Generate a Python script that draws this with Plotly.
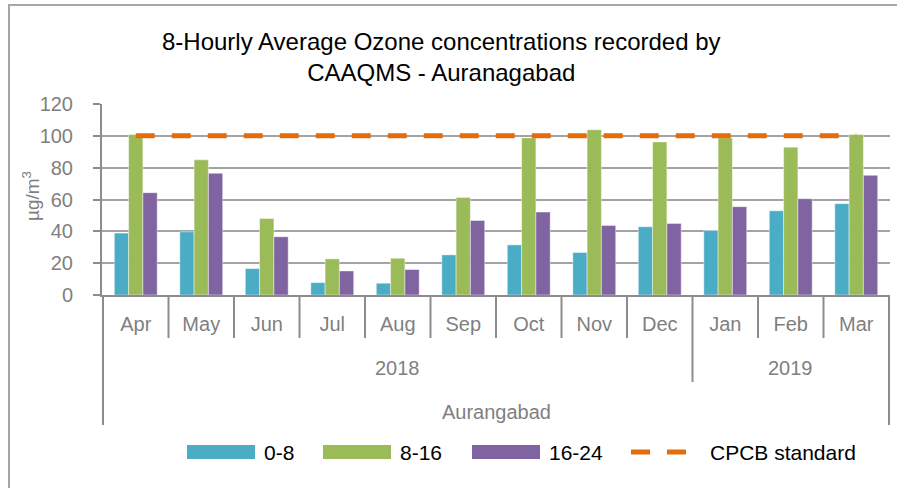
import plotly.graph_objects as go

# ---- data ----
months = ["Apr", "May", "Jun", "Jul", "Aug", "Sep", "Oct", "Nov", "Dec", "Jan", "Feb", "Mar"]
years = ["2018", "2018", "2018", "2018", "2018", "2018", "2018", "2018", "2018", "2019", "2019", "2019"]
station = "Aurangabad"
series_names = ["0-8", "8-16", "16-24"]
s_0_8 = [38.9, 39.7, 16.6, 7.8, 7.4, 25.2, 31.5, 26.7, 42.9, 40.5, 52.9, 57.4]
s_8_16 = [100.8, 84.9, 48.1, 22.7, 23.1, 61.3, 98.7, 103.8, 96.2, 98.7, 92.9, 100.8]
s_16_24 = [64.3, 76.5, 36.6, 15.1, 16.0, 46.8, 52.1, 43.7, 45.0, 55.5, 60.5, 75.2]
cpcb_name = "CPCB standard"
cpcb = [100, 100, 100, 100, 100, 100, 100, 100, 100, 100, 100, 100]
y_ticks = [0, 20, 40, 60, 80, 100, 120]
title_text = "8-Hourly Average Ozone concentrations recorded by<br>CAAQMS - Auranagabad"

# ---- styling ----
colors = ["#4BACC6", "#9BBB59", "#8064A2"]
line_color = "#E46C0A"
gray_text = "#7F7F7F"
grid_col = "#A3A3A3"
axis_col = "#8C8C8C"
FONT = "Liberation Sans, Arial, sans-serif"
DASH = "19px,17px"

W, H = 897, 488
L, R, T, B = 102, 890, 104, 295


def px(xp):
    return (xp - L) / (R - L)


def py(yp):
    return (B - yp) / (B - T)


fig = go.Figure()
for name, vals, col in zip(series_names, [s_0_8, s_8_16, s_16_24], colors):
    fig.add_trace(go.Bar(x=months, y=vals, name=name,
                         marker=dict(color=col, line=dict(color="rgba(255,255,255,0.55)", width=0.8)),
                         showlegend=False))
fig.add_trace(go.Scatter(x=months, y=cpcb, name=cpcb_name, mode="lines",
                         line=dict(color=line_color, width=5, dash=DASH), showlegend=False))

shapes = []
annotations = []

# outer chart border
shapes.append(dict(type="rect", xref="paper", yref="paper", x0=px(9), y0=py(5), x1=px(905), y1=py(500),
                   line=dict(color="#A6A6A6", width=2), fillcolor="rgba(0,0,0,0)"))

# multi-level category separators
n = len(months)
for i in range(n + 1):
    xpos = i - 0.5
    if i == 0 or i == n:
        y_end = 425
    elif years[i] != years[i - 1]:
        y_end = 382
    else:
        y_end = 338
    shapes.append(dict(type="line", xref="x", yref="paper", x0=xpos, x1=xpos, y0=0, y1=py(y_end),
                       line=dict(color=axis_col, width=2)))

# year labels
uniq_years = []
for y in years:
    if y not in uniq_years:
        uniq_years.append(y)
for y in uniq_years:
    idx = [i for i, v in enumerate(years) if v == y]
    annotations.append(dict(xref="x", yref="paper", x=sum(idx) / len(idx), y=py(368), text=y, showarrow=False,
                            font=dict(family=FONT, size=20, color=gray_text), xanchor="center", yanchor="middle"))
annotations.append(dict(xref="x", yref="paper", x=(n - 1) / 2, y=py(412), text=station, showarrow=False,
                        font=dict(family=FONT, size=20, color=gray_text), xanchor="center", yanchor="middle"))

# y-axis title
annotations.append(dict(xref="paper", yref="paper", x=px(31), y=py(196), text="µg/m<sup>3</sup>", textangle=-90,
                        showarrow=False, font=dict(family=FONT, size=19, color=gray_text),
                        xanchor="center", yanchor="middle"))

# title
annotations.append(dict(xref="paper", yref="paper", x=px(441), y=py(57), text=title_text, showarrow=False,
                        font=dict(family=FONT, size=24, color="black"), xanchor="center", yanchor="middle",
                        align="center"))

# manual legend
leg_y = 452
sw_x = [187, 323, 472]
tx_x = [262, 398, 547]
for name, col, x0, tx in zip(series_names, colors, sw_x, tx_x):
    shapes.append(dict(type="rect", xref="paper", yref="paper", x0=px(x0), x1=px(x0 + 68), y0=py(leg_y - 7),
                       y1=py(leg_y + 7), line=dict(width=0), fillcolor=col))
    annotations.append(dict(xref="paper", yref="paper", x=px(tx), y=py(leg_y), text=name, showarrow=False,
                            font=dict(family=FONT, size=21, color="black"), xanchor="left", yanchor="middle"))
shapes.append(dict(type="line", xref="paper", yref="paper", x0=px(631), x1=px(690), y0=py(leg_y), y1=py(leg_y),
                   line=dict(color=line_color, width=5, dash=DASH)))
annotations.append(dict(xref="paper", yref="paper", x=px(708), y=py(leg_y), text=cpcb_name, showarrow=False,
                        font=dict(family=FONT, size=21, color="black"), xanchor="left", yanchor="middle"))

fig.update_layout(
    width=W, height=H,
    margin=dict(l=L, r=W - R, t=T, b=H - B),
    paper_bgcolor="white", plot_bgcolor="white",
    barmode="group", bargap=0.345, bargroupgap=0,
    font=dict(family=FONT, size=20, color=gray_text),
    shapes=shapes, annotations=annotations,
    hovermode=False,
)
fig.update_xaxes(type="category", categoryorder="array", categoryarray=months,
                 showline=True, linecolor=axis_col, linewidth=2, ticks="", showgrid=False,
                 tickfont=dict(family=FONT, size=20, color=gray_text), ticklabelstandoff=10)
fig.update_yaxes(range=[0, 120], tickvals=y_ticks, showgrid=True, gridcolor=grid_col, gridwidth=2,
                 showline=True, linecolor=axis_col, linewidth=2, ticks="outside", ticklen=7, tickcolor=axis_col,
                 tickwidth=2, zeroline=False, tickfont=dict(family=FONT, size=20, color=gray_text),
                 ticklabelstandoff=16)

fig.write_html("out.html", config={"displayModeBar": False, "staticPlot": True},
               post_script="document.body.style.margin='0px';document.body.style.overflow='hidden';")
